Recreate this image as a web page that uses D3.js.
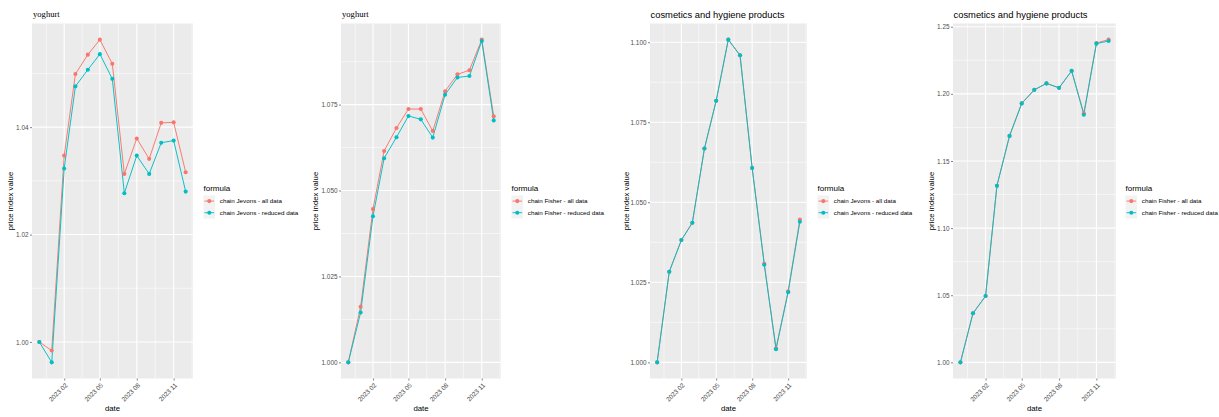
<!DOCTYPE html>
<html>
<head>
<meta charset="utf-8">
<script src="https://cdn.jsdelivr.net/npm/d3@7"></script>
<style>
  html, body { margin: 0; padding: 0; background: #ffffff; }
  svg { display: block; }
</style>
</head>
<body>
<svg id="chart" width="1219" height="417"></svg>
<script>
// ---------------- data ----------------
const months = ["2022-12","2023-01","2023-02","2023-03","2023-04","2023-05","2023-06",
                "2023-07","2023-08","2023-09","2023-10","2023-11","2023-12"];
const xTickDates = ["2023-02","2023-05","2023-08","2023-11"];
const xTickLabels = ["2023 02","2023 05","2023 08","2023 11"];

const yoghurtJevonsAll     = [1.0000,0.9984,1.0347,1.0499,1.0535,1.0563,1.0518,1.0313,1.0379,1.0341,1.0408,1.0409,1.0316];
const yoghurtJevonsReduced = [1.0000,0.9962,1.0323,1.0476,1.0507,1.0536,1.0490,1.0277,1.0347,1.0313,1.0371,1.0375,1.0280];

const yoghurtFisherAll     = [1.0000,1.0162,1.0446,1.0615,1.0682,1.0737,1.0737,1.0673,1.0789,1.0838,1.0850,1.0939,1.0716];
const yoghurtFisherReduced = [1.0000,1.0145,1.0425,1.0594,1.0655,1.0717,1.0707,1.0654,1.0779,1.0829,1.0833,1.0935,1.0704];

const cosmeticsJevonsAll     = [1.0000,1.0283,1.0382,1.0436,1.0668,1.0817,1.1008,1.0959,1.0607,1.0308,1.0044,1.0222,1.0446];
const cosmeticsJevonsReduced = [1.0000,1.0283,1.0382,1.0436,1.0668,1.0817,1.1008,1.0959,1.0607,1.0305,1.0041,1.0219,1.0439];

const cosmeticsFisherAll     = [1.0000,1.0366,1.0494,1.1316,1.1687,1.1929,1.2030,1.2078,1.2045,1.2171,1.1855,1.2379,1.2404];
const cosmeticsFisherReduced = [1.0000,1.0366,1.0494,1.1316,1.1687,1.1929,1.2030,1.2078,1.2045,1.2171,1.1845,1.2374,1.2394];

const yTicksP1 = [1.00, 1.02, 1.04];
const yMinorP1 = [1.01, 1.03, 1.05];
const yTicksP2 = [1.000, 1.025, 1.050, 1.075];
const yMinorP2 = [1.0125, 1.0375, 1.0625, 1.0875];
const yTicksP3 = [1.000, 1.025, 1.050, 1.075, 1.100];
const yMinorP3 = [1.0125, 1.0375, 1.0625, 1.0875];
const yTicksP4 = [1.00, 1.05, 1.10, 1.15, 1.20, 1.25];
const yMinorP4 = [1.025, 1.075, 1.125, 1.175, 1.225];

const jevonsNames = ["chain Jevons - all data", "chain Jevons - reduced data"];
const fisherNames = ["chain Fisher - all data", "chain Fisher - reduced data"];
const titles = ["yoghurt", "yoghurt", "cosmetics and hygiene products", "cosmetics and hygiene products"];

// ---------------- layout / style ----------------
const colors = ["#F8766D", "#00BFC4"];
const SANS = "'Liberation Sans', Arial, sans-serif";
const SERIF = "'Liberation Serif', 'Times New Roman', serif";
const plotTop = 23.5, plotBottom = 378.5;

const panels = [
  {title: titles[0], serif: true,  left: 32,  right: 193,  ytitleX: 10,    legendGap: 10.5, tickFmt: ".2f", names: jevonsNames,
   series: [yoghurtJevonsAll, yoghurtJevonsReduced], yTicks: yTicksP1, yMinor: yMinorP1},
  {title: titles[1], serif: true,  left: 341, right: 501,  ytitleX: 315,   legendGap: 10.5, tickFmt: ".3f", names: fisherNames,
   series: [yoghurtFisherAll, yoghurtFisherReduced], yTicks: yTicksP2, yMinor: yMinorP2},
  {title: titles[2], serif: false, left: 650, right: 807,  ytitleX: 626,   legendGap: 10.5, tickFmt: ".3f", names: jevonsNames,
   series: [cosmeticsJevonsAll, cosmeticsJevonsReduced], yTicks: yTicksP3, yMinor: yMinorP3},
  {title: titles[3], serif: false, left: 953, right: 1116, ytitleX: 931.5, legendGap: 9.5,  tickFmt: ".2f", names: fisherNames,
   series: [cosmeticsFisherAll, cosmeticsFisherReduced], yTicks: yTicksP4, yMinor: yMinorP4}
];

const parseMonth = d3.timeParse("%Y-%m");
const dates = months.map(parseMonth);
const xMajor = xTickDates.map(parseMonth);
// ggplot-like minor breaks: midpoints between majors, extended by half a step on each side
const xMinor = [];
{
  const t = xMajor.map(d => +d);
  xMinor.push(new Date(t[0] - (t[1] - t[0]) / 2));
  for (let i = 0; i < t.length - 1; i++) xMinor.push(new Date((t[i] + t[i + 1]) / 2));
  xMinor.push(new Date(t[t.length - 1] + (t[t.length - 1] - t[t.length - 2]) / 2));
}

const svg = d3.select("#chart");

panels.forEach(p => {
  const g = svg.append("g");

  // scales (5% expansion like ggplot)
  const xExt = d3.extent(dates);
  const xPad = (xExt[1] - xExt[0]) * 0.05;
  const x = d3.scaleTime()
    .domain([new Date(+xExt[0] - xPad), new Date(+xExt[1] + xPad)])
    .range([p.left, p.right]);

  const yExt = d3.extent(p.series.flat());
  const yPad = (yExt[1] - yExt[0]) * 0.05;
  const y = d3.scaleLinear()
    .domain([yExt[0] - yPad, yExt[1] + yPad])
    .range([plotBottom, plotTop]);

  // panel background
  g.append("rect")
    .attr("x", p.left).attr("y", plotTop)
    .attr("width", p.right - p.left).attr("height", plotBottom - plotTop)
    .attr("fill", "#EBEBEB");

  // minor grid
  const xLo = x.domain()[0], xHi = x.domain()[1];
  g.selectAll(".ymin").data(p.yMinor.filter(v => v >= y.domain()[0] && v <= y.domain()[1]))
    .enter().append("line")
    .attr("x1", p.left).attr("x2", p.right)
    .attr("y1", d => y(d)).attr("y2", d => y(d))
    .attr("stroke", "#ffffff").attr("stroke-width", 0.55);
  g.selectAll(".xmin").data(xMinor.filter(d => d >= xLo && d <= xHi))
    .enter().append("line")
    .attr("x1", d => x(d)).attr("x2", d => x(d))
    .attr("y1", plotTop).attr("y2", plotBottom)
    .attr("stroke", "#ffffff").attr("stroke-width", 0.55);

  // major grid
  g.selectAll(".ymaj").data(p.yTicks)
    .enter().append("line")
    .attr("x1", p.left).attr("x2", p.right)
    .attr("y1", d => y(d)).attr("y2", d => y(d))
    .attr("stroke", "#ffffff").attr("stroke-width", 1.1);
  g.selectAll(".xmaj").data(xMajor)
    .enter().append("line")
    .attr("x1", d => x(d)).attr("x2", d => x(d))
    .attr("y1", plotTop).attr("y2", plotBottom)
    .attr("stroke", "#ffffff").attr("stroke-width", 1.1);

  // y axis
  const yAxis = d3.axisLeft(y).tickValues(p.yTicks).tickFormat(d3.format(p.tickFmt))
    .tickSizeInner(2).tickSizeOuter(0).tickPadding(1.5);
  const ya = g.append("g").attr("transform", `translate(${p.left},0)`).call(yAxis);
  ya.select(".domain").remove();
  ya.selectAll(".tick line").attr("stroke", "#333333").attr("stroke-width", 0.6);
  ya.selectAll(".tick text").attr("fill", "#4D4D4D").style("font-family", SANS).style("font-size", "6.4px");

  // x axis
  const xAxis = d3.axisBottom(x).tickValues(xMajor).tickFormat((d, i) => xTickLabels[i])
    .tickSizeInner(2).tickSizeOuter(0).tickPadding(1);
  const xa = g.append("g").attr("transform", `translate(0,${plotBottom})`).call(xAxis);
  xa.select(".domain").remove();
  xa.selectAll(".tick line").attr("stroke", "#333333").attr("stroke-width", 0.6);
  xa.selectAll(".tick text")
    .attr("fill", "#4D4D4D").style("font-family", SANS).style("font-size", "6.4px")
    .attr("text-anchor", "end")
    .attr("y", 0).attr("dy", "0.72em")
    .attr("transform", "translate(0,4) rotate(-45)");

  // lines then points (ggplot layer order)
  const line = d3.line().x((d, i) => x(dates[i])).y(d => y(d));
  p.series.forEach((s, k) => {
    g.append("path").datum(s).attr("d", line)
      .attr("fill", "none").attr("stroke", colors[k]).attr("stroke-width", 0.95);
  });
  p.series.forEach((s, k) => {
    g.selectAll(".pt" + k).data(s).enter().append("circle")
      .attr("cx", (d, i) => x(dates[i])).attr("cy", d => y(d))
      .attr("r", 2.05).attr("fill", colors[k]);
  });

  // title
  g.append("text")
    .attr("x", p.left + (p.serif ? 1 : 0.5)).attr("y", p.serif ? 17.3 : 18.3)
    .style("font-family", p.serif ? SERIF : SANS)
    .style("font-size", p.serif ? "8.6px" : "9.4px")
    .attr("fill", "#000000")
    .text(p.title);

  // axis titles
  g.append("text")
    .attr("x", (p.left + p.right) / 2).attr("y", 411)
    .attr("text-anchor", "middle")
    .style("font-family", SANS).style("font-size", "7.8px").attr("fill", "#000000")
    .text("date");
  g.append("text")
    .attr("transform", `translate(${p.ytitleX + 2.8},${(plotTop + plotBottom) / 2}) rotate(-90)`)
    .attr("text-anchor", "middle")
    .style("font-family", SANS).style("font-size", "7.8px").attr("fill", "#000000")
    .text("price index value");

  // legend
  const lx = p.right + p.legendGap;
  const lg = g.append("g");
  lg.append("text").attr("x", lx).attr("y", 191)
    .style("font-family", SANS).style("font-size", "8px").attr("fill", "#000000")
    .text("formula");
  const keyH = 11.6, keyW = 11.6, keyY0 = 195.3;
  p.names.forEach((nm, k) => {
    const ky = keyY0 + k * keyH;
    lg.append("rect").attr("x", lx).attr("y", ky).attr("width", keyW).attr("height", keyH)
      .attr("fill", "#F2F2F2");
    lg.append("line").attr("x1", lx + 1).attr("x2", lx + keyW - 1)
      .attr("y1", ky + keyH / 2).attr("y2", ky + keyH / 2)
      .attr("stroke", colors[k]).attr("stroke-width", 0.95);
    lg.append("circle").attr("cx", lx + keyW / 2).attr("cy", ky + keyH / 2).attr("r", 2.05)
      .attr("fill", colors[k]);
    lg.append("text").attr("x", lx + 16.3).attr("y", ky + keyH / 2).attr("dy", "0.35em")
      .style("font-family", SANS).style("font-size", "6.25px").attr("fill", "#000000")
      .text(nm);
  });
});
</script>
</body>
</html>
